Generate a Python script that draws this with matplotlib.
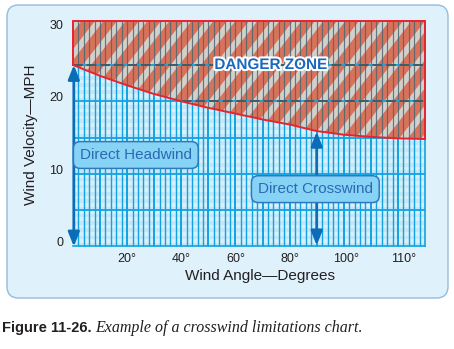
import numpy as np
import matplotlib
matplotlib.use("Agg")
import matplotlib.pyplot as plt
from matplotlib.patches import FancyBboxPatch, Polygon, FancyArrowPatch
from matplotlib.transforms import ScaledTranslation
import matplotlib.patheffects as pe

plt.rcParams['font.family'] = ['Liberation Sans', 'DejaVu Sans']

# ---- data ----
angles = [0, 10, 20, 30, 40, 50, 60, 70, 80, 90, 100, 110, 120, 130]
limit_mph = [25.0, 23.5, 22.2, 21.0, 20.0, 19.1, 18.3, 17.5, 16.8, 15.9, 15.4, 15.1, 14.9, 14.8]
x_tick_pos = [20, 40, 60, 80, 101, 122]
x_tick_labels = ["20°", "40°", "60°", "80°", "100°", "110°"]
y_ticks = [0, 10, 20, 30]
y_tick_labels = ["0", "10", "20", "30"]
grid_y = [5, 10, 15, 20, 25]
danger_dash_y = [20, 25]
grid_x_step = 2
headwind_top = 25.0
crosswind_angle = 90
crosswind_top = 15.8

W, H = 454, 349
XMIN, XMAX = 0, 130
YMIN, YMAX = -0.07, 31.06

fig = plt.figure(figsize=(W / 100, H / 100), dpi=100)
fig.patch.set_facecolor('white')

# panel background
panel = FancyBboxPatch((7 / W, 1 - 298 / H), (448 - 7) / W, (298 - 5) / H,
                       boxstyle="round,pad=0,rounding_size=0.025",
                       mutation_aspect=W / H,
                       transform=fig.transFigure, fc='#DFF1FB', ec='#93BCDD',
                       lw=1.0, zorder=-10)
fig.patches.append(panel)

ax = fig.add_axes([73 / W, 1 - 247 / H, (425 - 73) / W, (247 - 21) / H])
ax.set_zorder(1)
ax.set_xlim(XMIN, XMAX)
ax.set_ylim(YMIN, YMAX)
ax.patch.set_alpha(0)
for s in ax.spines.values():
    s.set_visible(False)

px_x = (425 - 73) / (XMAX - XMIN)
px_y = (247 - 21) / (YMAX - YMIN)

# blue region (below curve)
blue_verts = [(XMIN, 0)] + list(zip(angles, limit_mph)) + [(XMAX, 0)]
blue_patch = Polygon(blue_verts, closed=True, fc='#C3E7F9', ec='none', zorder=1)
ax.add_patch(blue_patch)

# light banding
for i in range(0, 32):
    b = ax.axhspan(i + 0.5, i + 1.0, color='#D6F0FC', lw=0, zorder=1.1)
    b.set_clip_path(blue_patch)

# danger region
danger_verts = list(zip(angles, limit_mph)) + [(XMAX, YMAX), (XMIN, YMAX)]
danger_patch = Polygon(danger_verts, closed=True, fc='#D8725B', ec='none', zorder=1)
ax.add_patch(danger_patch)

# diagonal stripes in danger zone
ang = np.deg2rad(52)
period_px = 22.0
band_px = 8.5
h_px = (YMAX - YMIN) * px_y
shift_px = h_px / np.tan(ang)
x0 = -shift_px - period_px
while x0 < (XMAX - XMIN) * px_x + period_px:
    xa = x0 / px_x
    xb = (x0 + band_px) / px_x
    dx = shift_px / px_x
    poly = Polygon([(xa, YMIN), (xb, YMIN), (xb + dx, YMAX), (xa + dx, YMAX)],
                   closed=True, fc='#D2D0CC', ec='none', zorder=1.2)
    ax.add_patch(poly)
    poly.set_clip_path(danger_patch)
    x0 += period_px

# vertical grid lines
xs = np.arange(XMIN + grid_x_step, XMAX, grid_x_step)
lws = [1.4 if (x % 10 == 0) else 1.0 for x in xs]
vb = ax.vlines(xs, YMIN, YMAX, colors='#12A2E2', linewidths=lws, zorder=2)
vb.set_clip_path(blue_patch)
vd = ax.vlines(xs, YMIN, YMAX, colors='#4E6670', linewidths=0.85, alpha=0.85, zorder=2)
vd.set_clip_path(danger_patch)

# horizontal grid lines
hb = ax.hlines(grid_y, XMIN, XMAX, colors='#12A2E2', linewidths=1.3, zorder=2.1)
hb.set_clip_path(blue_patch)
hd1 = ax.hlines(danger_dash_y, XMIN, XMAX, colors='#1AA3DD', linewidths=1.4, zorder=2.1)
hd1.set_clip_path(danger_patch)
hd2 = ax.hlines(danger_dash_y, XMIN, XMAX, colors='#3E5C66', linewidths=1.4,
                linestyles=[(0, (5.0, 2.0))], zorder=2.2)
hd2.set_clip_path(danger_patch)

# edges of blue region
ax.plot([XMIN, XMAX], [0, 0], color='#12A2E2', lw=1.2, zorder=2.3, clip_on=False)
ax.plot([XMAX, XMAX], [0, limit_mph[-1]], color='#12A2E2', lw=1.2, zorder=2.3, clip_on=False)

# red border of danger zone
ax.plot(angles, limit_mph, color='#E8232B', lw=1.4, zorder=3, clip_on=False)
ax.plot([XMIN, XMIN, XMAX, XMAX], [limit_mph[0], YMAX, YMAX, limit_mph[-1]],
        color='#E8232B', lw=1.4, zorder=3, clip_on=False, solid_joinstyle='miter')

# arrows
arrow_col = '#0B6DB8'
a1 = FancyArrowPatch((0.3, 0.0), (0.3, headwind_top),
                     arrowstyle='<|-|>,head_length=8.5,head_width=3.4',
                     mutation_scale=1, lw=2.0, color=arrow_col,
                     shrinkA=0, shrinkB=0, zorder=4, clip_on=False)
ax.add_patch(a1)
a2 = FancyArrowPatch((crosswind_angle, 0.15), (crosswind_angle, crosswind_top),
                     arrowstyle='<|-|>,head_length=8.5,head_width=3.4',
                     mutation_scale=1, lw=2.0, color=arrow_col,
                     shrinkA=0, shrinkB=0, zorder=4, clip_on=False)
ax.add_patch(a2)

# labels in boxes
box_kw = dict(boxstyle='round,pad=0.42,rounding_size=0.45', fc='#86D3F5', ec='#2E79BE', lw=1.1)
ax.text(23.2, 12.6, 'Direct Headwind', fontsize=11, color='#2A6AB3',
        ha='center', va='center', bbox=box_kw, zorder=5)
ax.text(89.5, 7.9, 'Direct Crosswind', fontsize=11, color='#2A6AB3',
        ha='center', va='center', bbox=box_kw, zorder=5)

ax.text(73.0, 25.0, 'DANGER ZONE', fontsize=11, fontweight='bold', color='#1A68BE',
        ha='center', va='center', zorder=6,
        path_effects=[pe.withStroke(linewidth=3, foreground='white')])

# ticks
ax.set_xticks(x_tick_pos)
ax.set_xticklabels(x_tick_labels)
ax.set_yticks(y_ticks)
ax.set_yticklabels(y_tick_labels)
ax.tick_params(length=0, labelsize=9, labelcolor='#231F20')
ax.tick_params(axis='x', pad=4)
ax.tick_params(axis='y', pad=7)
for lab in ax.get_yticklabels():
    lab.set_transform(lab.get_transform() + ScaledTranslation(0, 4.5 / 100, fig.dpi_scale_trans))

fig.text(260 / W, 1 - 276 / H, 'Wind Angle—Degrees', fontsize=11, color='#231F20',
         ha='center', va='center')
fig.text(31 / W, 1 - 135 / H, 'Wind Velocity—MPH', fontsize=11, color='#231F20',
         ha='center', va='center', rotation=90)

# caption
t1 = fig.text(2 / W, 1 - 328 / H, 'Figure 11-26.', fontsize=10.5, fontweight='bold',
              color='#231F20', ha='left', va='center')
fig.canvas.draw()
bb = t1.get_window_extent()
fig.text((bb.x1 + 4) / W, 1 - 328 / H, 'Example of a crosswind limitations chart.',
         fontsize=11.5, style='italic', family=['Liberation Serif', 'DejaVu Serif'],
         color='#231F20', ha='left', va='center')

fig.savefig('out.png', dpi=100)
